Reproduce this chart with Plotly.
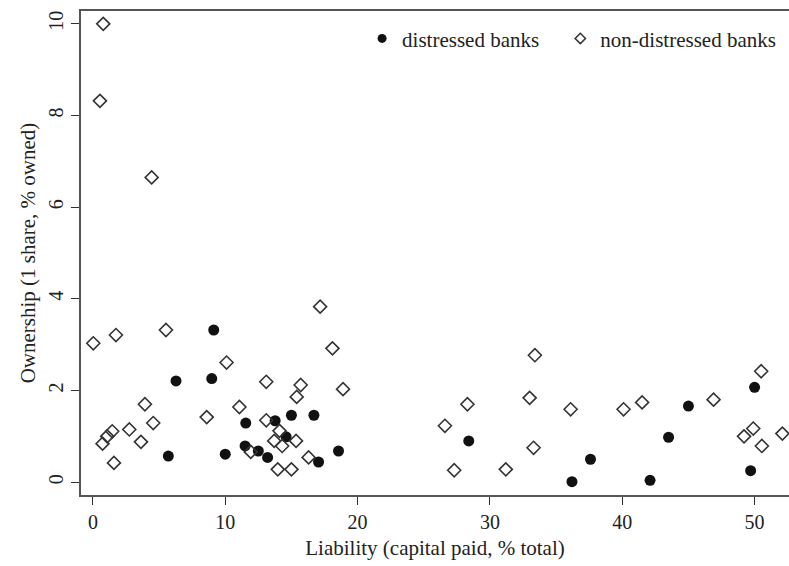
import plotly.graph_objects as go

# Distressed banks (filled dots)
dist_x = [9.13, 6.28, 8.98, 5.7, 10.0, 11.55, 11.5, 12.5, 13.2, 13.77, 14.6, 15.0, 16.7,
          18.56, 17.05, 28.4, 36.2, 37.6, 42.1, 43.5, 45.0, 50.0, 49.7]
dist_y = [3.32, 2.21, 2.26, 0.57, 0.61, 1.29, 0.79, 0.68, 0.54, 1.34, 0.99, 1.46, 1.46,
          0.68, 0.44, 0.90, 0.01, 0.50, 0.04, 0.98, 1.66, 2.07, 0.25]

# Non-distressed banks (open diamonds)
non_x = [0.78, 0.53, 4.44, 0.03, 1.74, 5.52, 10.1, 13.1, 3.93, 11.07, 8.6, 4.56, 13.1,
         2.75, 1.46, 1.08, 0.73, 3.63, 1.59, 11.93, 13.97, 14.1, 13.7, 14.3,
         17.17, 18.1, 15.7, 18.9, 15.4, 15.35, 16.3, 15.0,
         26.6, 28.3, 27.3, 31.2, 33.4, 33.0, 33.3, 36.1, 40.1, 41.5, 46.9,
         50.5, 49.2, 49.9, 50.55, 52.1]
non_y = [10.0, 8.32, 6.65, 3.03, 3.21, 3.32, 2.61, 2.19, 1.70, 1.64, 1.42, 1.29, 1.35,
         1.15, 1.11, 1.00, 0.84, 0.88, 0.42, 0.66, 0.28, 1.12, 0.90, 0.79,
         3.83, 2.92, 2.12, 2.03, 1.86, 0.90, 0.54, 0.28,
         1.23, 1.70, 0.26, 0.28, 2.77, 1.84, 0.75, 1.59, 1.59, 1.74, 1.80,
         2.42, 1.00, 1.17, 0.79, 1.06]

x_ticks = [0, 10, 20, 30, 40, 50]
y_ticks = [0, 2, 4, 6, 8, 10]

font = "Liberation Serif, Times New Roman, serif"
axis_col = "#555555"
dot_col = "#111111"
dia_col = "#333333"

fig = go.Figure()
fig.add_trace(go.Scatter(
    x=dist_x, y=dist_y, mode="markers", name="distressed banks", showlegend=False,
    marker=dict(symbol="circle", size=11, color=dot_col, line=dict(width=0)),
))
fig.add_trace(go.Scatter(
    x=non_x, y=non_y, mode="markers", name="non-distressed banks", showlegend=False,
    marker=dict(symbol="diamond-open", size=10, color=dia_col, line=dict(width=1.6, color=dia_col)),
))
# legend entries with smaller symbols, as in the reference key
fig.add_trace(go.Scatter(
    x=[None], y=[None], mode="markers", name="distressed banks", legend="legend",
    marker=dict(symbol="circle", size=9, color=dot_col, line=dict(width=0)),
))
fig.add_trace(go.Scatter(
    x=[None], y=[None], mode="markers", name="non-distressed banks", legend="legend2",
    marker=dict(symbol="diamond-open", size=8, color=dia_col, line=dict(width=1.5, color=dia_col)),
))

legend_common = dict(orientation="h", xanchor="left", y=0.985, yanchor="top",
                     font=dict(family=font, size=21, color="#222222"),
                     bgcolor="rgba(0,0,0,0)", itemwidth=30)

fig.update_layout(
    width=789, height=566,
    margin=dict(l=81, r=0, t=11, b=71, autoexpand=False),
    paper_bgcolor="white", plot_bgcolor="white",
    font=dict(family=font, size=20, color="#222222"),
    showlegend=True,
    legend=dict(x=0.397, **legend_common),
    legend2=dict(x=0.677, **legend_common),
    xaxis=dict(
        range=[-0.9, 52.6], tickvals=x_ticks, ticktext=[str(v) for v in x_ticks],
        showgrid=False, zeroline=False, showline=True, linecolor=axis_col, linewidth=2,
        mirror=True, ticks="outside", ticklen=8, tickwidth=1.2, tickcolor="#333333",
        tickfont=dict(size=20),
        title=dict(text="Liability (capital paid, % total)", font=dict(size=21), standoff=8),
    ),
    yaxis=dict(
        range=[-0.28, 10.28], tickvals=y_ticks, ticktext=[str(v) for v in y_ticks],
        showgrid=False, zeroline=False, showline=True, linecolor=axis_col, linewidth=2,
        mirror=False, ticks="outside", ticklen=8, tickwidth=1.2, tickcolor="#333333",
        tickangle=-90, tickfont=dict(size=20),
        title=dict(text="Ownership (1 share, % owned)", font=dict(size=21), standoff=4),
    ),
)

fig.write_html(
    "out.html",
    config={"displayModeBar": False},
    post_script="document.body.style.margin='0';document.body.style.overflow='hidden';",
)
